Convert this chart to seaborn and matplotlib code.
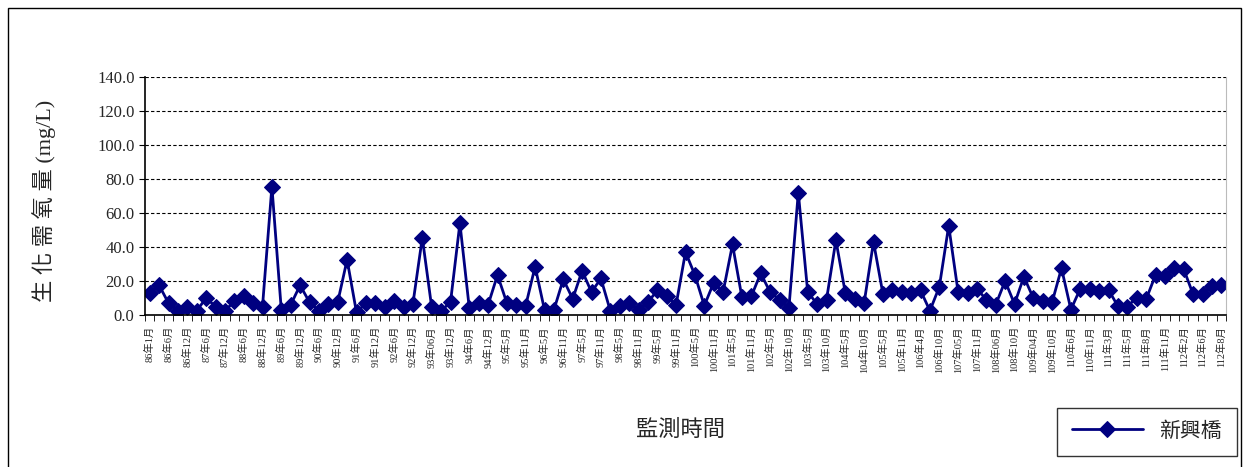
import numpy as np
import pandas as pd
import seaborn as sns
import matplotlib.pyplot as plt
from matplotlib.patches import Rectangle

# labels shown under every other sampling point
tick_labels = [
    "86年1月", "86年6月", "86年12月", "87年6月", "87年12月", "88年6月",
    "88年12月", "89年6月", "89年12月", "90年6月", "90年12月", "91年6月",
    "91年12月", "92年6月", "92年12月", "93年06月", "93年12月", "94年6月",
    "94年12月", "95年5月", "95年11月", "96年5月", "96年11月", "97年5月",
    "97年11月", "98年5月", "98年11月", "99年5月", "99年11月", "100年5月",
    "100年11月", "101年5月", "101年11月", "102年5月", "102年10月", "103年5月",
    "103年10月", "104年5月", "104年10月", "105年5月", "105年11月", "106年4月",
    "106年10月", "107年05月", "107年11月", "108年06月", "108年10月", "109年04月",
    "109年10月", "110年6月", "110年11月", "111年3月", "111年5月", "111年8月",
    "111年11月", "112年2月", "112年6月", "112年8月",
]

# BOD (mg/L), one value per sampling
bod = [
    13, 17.5, 7, 2.5, 4.5, 2.5, 10, 5, 2.5, 8,
    11, 7, 5, 75.5, 3, 6, 17.5, 7.5, 2.5, 6.5,
    7.5, 32.5, 1.5, 7, 7, 4.5, 8.5, 5, 6.5, 45.5,
    4.5, 2.5, 7.5, 54, 4, 7, 6, 23.5, 7, 6,
    5.5, 28.5, 3, 3, 21, 9.5, 26, 13.5, 21.5, 2.5,
    5.5, 7, 3, 7.5, 14.5, 11, 6, 37, 23.5, 5.5,
    19, 13.5, 41.5, 10.5, 11, 24.5, 13.5, 9, 4, 72,
    13.5, 6.5, 9, 44, 13, 9.5, 7, 43, 12.5, 14.5,
    13.5, 13, 14.5, 2.5, 16.5, 52.5, 13.5, 13, 15.5, 9,
    6, 20, 6.5, 22.5, 10, 8.5, 7.5, 27.5, 3.2, 15.5,
    15.5, 14.2, 14.8, 5.2, 5, 10.2, 9.2, 23.5, 23, 27.5,
    27, 12.2, 12.2, 17.2, 17.5,
]
station = "新興橋"

sns.set_style("white")
plt.rcParams['font.family'] = ['Liberation Serif', 'Noto Sans CJK TC']

navy = '#000080'
fig = plt.figure(figsize=(12.48, 4.67), dpi=100)
ax = fig.add_axes([145 / 1248, 1 - 315 / 467, 1081 / 1248, 238 / 467])

df = pd.DataFrame({'idx': np.arange(len(bod)), 'bod': bod})
sns.lineplot(data=df, x='idx', y='bod', ax=ax, color=navy, linewidth=2,
             marker='D', markersize=8.5, markeredgecolor=navy, label=station,
             legend=False)

ax.set_xlim(-0.5, len(bod) - 0.5)
ax.set_ylim(0, 140)
ax.set_yticks(np.arange(0, 141, 20))
ax.set_yticklabels([f"{v:.1f}" for v in np.arange(0, 141, 20)], fontsize=12)
ax.yaxis.grid(True, color='black', linestyle=(0, (3, 2)), linewidth=0.8)

ax.set_xticks(np.arange(0, len(bod), 2))
ax.set_xticklabels(tick_labels, rotation=90, fontsize=7.5)
ax.set_xticks(np.arange(-0.5, len(bod), 1), minor=True)
ax.tick_params(axis='x', which='major', length=0, pad=8)
ax.tick_params(axis='x', which='minor', length=4, direction='out', color='black', bottom=True)
ax.tick_params(axis='y', length=4, direction='out', color='black', left=True)

for side in ['left', 'bottom']:
    ax.spines[side].set_color('black')
    ax.spines[side].set_linewidth(1.2)
ax.spines['top'].set_visible(False)
ax.spines['right'].set_color('#bbbbbb')

ax.set_ylabel("生 化 需 氧 量 (mg/L)", fontsize=16)
ax.yaxis.set_label_coords(-0.082, 0.48)
ax.set_xlabel("監測時間", fontsize=16)
ax.xaxis.set_label_coords(0.495, -0.44)

leg = fig.legend(loc='center', bbox_to_anchor=(1147 / 1248, 1 - 432 / 467),
                 fontsize=15, frameon=True, fancybox=False, edgecolor='black',
                 handlelength=3.4, borderpad=0.7, handletextpad=0.8)
leg.get_frame().set_linewidth(1)

# outer chart frame
fig.patches.append(Rectangle((8 / 1248, -0.05), 1233 / 1248, 1.05 - 8 / 467,
                             transform=fig.transFigure, fill=False,
                             edgecolor='black', linewidth=1))

fig.savefig("out.png", dpi=100)
